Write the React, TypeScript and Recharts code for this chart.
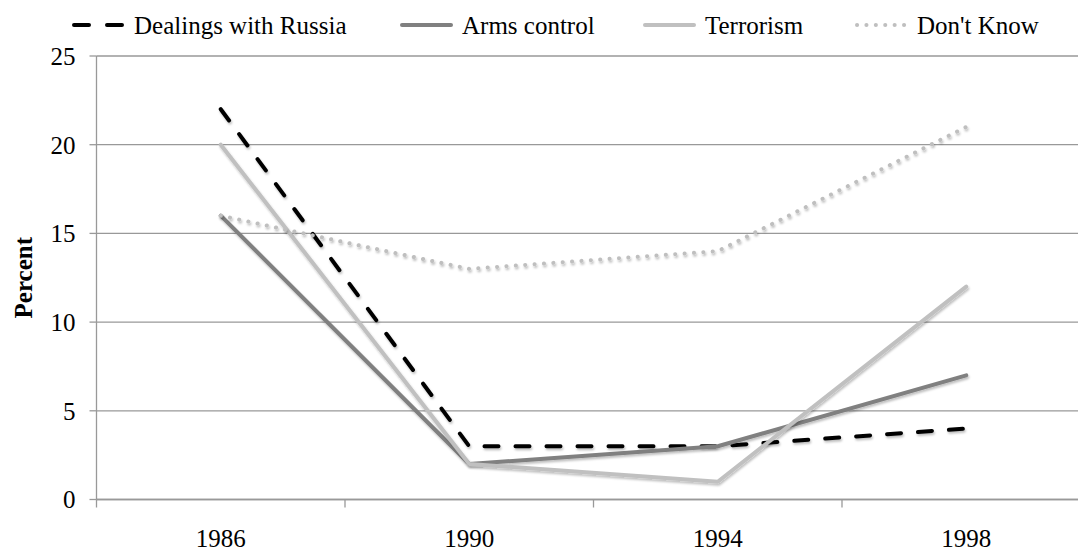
import React from "react";
import {
  LineChart,
  Line,
  XAxis,
  YAxis,
  CartesianGrid,
  Legend,
  Label,
} from "recharts";

const YEARS = ["1986", "1990", "1994", "1998"];
const RUSSIA = [22, 3, 3, 4];
const ARMS = [16, 2, 3, 7];
const TERROR = [20, 2, 1, 12];
const DONT_KNOW = [16, 13, 14, 21];
const Y_TICKS = [0, 5, 10, 15, 20, 25];

const SERIES = [
  { key: "russia", name: "Dealings with Russia", color: "#000000", dash: "14 17" },
  { key: "arms", name: "Arms control", color: "#808080", dash: undefined },
  { key: "terror", name: "Terrorism", color: "#c0c0c0", dash: undefined },
  { key: "dontKnow", name: "Don't Know", color: "#bfbfbf", dash: "0.1 9.3" },
];

const data = YEARS.map((year, i) => ({
  year,
  russia: RUSSIA[i],
  arms: ARMS[i],
  terror: TERROR[i],
  dontKnow: DONT_KNOW[i],
}));

// layout
const W = 1100;
const H = 548;
const MARGIN = { top: 16, right: 9.5, bottom: 0.5, left: 0.5 };
const Y_AXIS_W = 96;
const BAND = (W - MARGIN.left - MARGIN.right - Y_AXIS_W) / YEARS.length;
const X_TICK_SIZE = 8;
const X_TICK_MARGIN = 21.5;
const FONT = "'Liberation Serif', 'Times New Roman', serif";
const FONT_SIZE = 25;
const AXIS_GRAY = "#999999";
const LEGEND_LEFT = [72, 400, 643, 855];

function YearTick(props: any) {
  const { x, y, payload, index } = props;
  const axisY = y - X_TICK_SIZE - X_TICK_MARGIN;
  const left = x - BAND / 2;
  return (
    <g>
      <line x1={left} y1={axisY} x2={left} y2={axisY + X_TICK_SIZE} stroke={AXIS_GRAY} strokeWidth={1.3} />
      {index === YEARS.length - 1 && (
        <line x1={x + BAND / 2} y1={axisY} x2={x + BAND / 2} y2={axisY + X_TICK_SIZE} stroke={AXIS_GRAY} strokeWidth={1.3} />
      )}
      <text
        x={x}
        y={y}
        dy="0.71em"
        textAnchor="middle"
        style={{ fontFamily: FONT, fontSize: FONT_SIZE, fill: "#000" }}
      >
        {payload.value}
      </text>
    </g>
  );
}

function renderLegend() {
  return (
    <div style={{ position: "relative", height: 40, width: 1078 }}>
      {SERIES.map((s, i) => (
        <div
          key={s.key}
          style={{
            position: "absolute",
            left: LEGEND_LEFT[i],
            top: 0,
            height: 34,
            display: "flex",
            alignItems: "center",
            whiteSpace: "nowrap",
          }}
        >
          <svg width={53} height={10} style={{ marginRight: 9 }}>
            <line
              x1={2}
              y1={5}
              x2={51}
              y2={5}
              stroke={s.color}
              strokeWidth={4}
              strokeLinecap="round"
              strokeDasharray={s.key === "russia" ? "15 18" : s.dash}
            />
          </svg>
          <span style={{ fontFamily: FONT, fontSize: FONT_SIZE, color: "#000", lineHeight: 1 }}>
            {s.name}
          </span>
        </div>
      ))}
    </div>
  );
}

export default function App() {
  return (
    <div
      style={{
        position: "fixed",
        left: 0,
        top: 0,
        width: 1078,
        height: 548,
        overflow: "hidden",
        background: "#fff",
      }}
    >
      <LineChart width={W} height={H} data={data} margin={MARGIN}>
        <defs>
          <filter id="lineShadow" x="-10%" y="-10%" width="120%" height="130%">
            <feDropShadow dx="1" dy="2" stdDeviation="1.2" floodColor="#000" floodOpacity="0.25" />
          </filter>
        </defs>
        <CartesianGrid vertical={false} stroke={AXIS_GRAY} strokeWidth={1.3} />
        <XAxis
          dataKey="year"
          axisLine={{ stroke: AXIS_GRAY, strokeWidth: 1.3 }}
          tickLine={false}
          tickSize={X_TICK_SIZE}
          tickMargin={X_TICK_MARGIN}
          height={48}
          interval={0}
          padding={{ left: BAND / 2, right: BAND / 2 }}
          tick={<YearTick />}
        />
        <YAxis
          domain={[0, 25]}
          ticks={Y_TICKS}
          width={Y_AXIS_W}
          axisLine={{ stroke: AXIS_GRAY, strokeWidth: 1.3 }}
          tickLine={{ stroke: AXIS_GRAY, strokeWidth: 1.3 }}
          tickSize={7}
          tickMargin={14}
          tick={{ fontFamily: FONT, fontSize: FONT_SIZE, fill: "#000" }}
        >
          <Label
            content={({ viewBox }: any) => (
              <text
                x={23}
                y={viewBox.y + viewBox.height / 2}
                transform={`rotate(-90, 23, ${viewBox.y + viewBox.height / 2})`}
                textAnchor="middle"
                dominantBaseline="central"
                style={{ fontFamily: FONT, fontSize: FONT_SIZE, fontWeight: 700, fill: "#000" }}
              >
                Percent
              </text>
            )}
          />
        </YAxis>
        <Legend
          verticalAlign="top"
          height={40}
          wrapperStyle={{ top: 8, left: 0, width: 1078 }}
          content={renderLegend}
        />
        {SERIES.map((s) => (
          <Line
            key={s.key}
            type="linear"
            dataKey={s.key}
            name={s.name}
            stroke={s.color}
            strokeWidth={4}
            strokeDasharray={s.dash}
            strokeLinecap="round"
            strokeLinejoin="round"
            dot={false}
            activeDot={false}
            isAnimationActive={false}
            style={{ filter: "url(#lineShadow)" }}
          />
        ))}
      </LineChart>
    </div>
  );
}
